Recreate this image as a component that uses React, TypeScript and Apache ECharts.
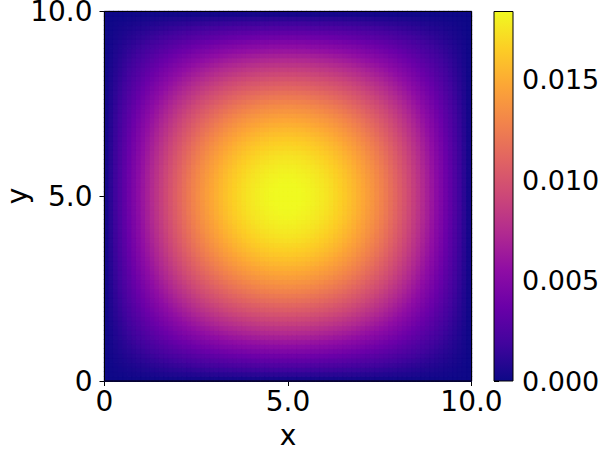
import React, { useEffect, useRef } from "react";
import * as echarts from "echarts";

// Field value read along the centre line y = 5 (80 cell centres, x = 0.0625 ... 9.9375)
const xProfile = [
  0.00036, 0.00109, 0.00181, 0.00253, 0.00325, 0.00396, 0.00467, 0.00537, 0.00606, 0.00674,
  0.00741, 0.00807, 0.00872, 0.00935, 0.00997, 0.01058, 0.01117, 0.01174, 0.01229, 0.01282,
  0.01334, 0.01383, 0.0143, 0.01475, 0.01518, 0.01558, 0.01596, 0.01632, 0.01665, 0.01695,
  0.01723, 0.01748, 0.0177, 0.0179, 0.01807, 0.01821, 0.01833, 0.01841, 0.01847, 0.0185,
  0.0185, 0.01847, 0.01841, 0.01833, 0.01821, 0.01807, 0.0179, 0.0177, 0.01748, 0.01723,
  0.01695, 0.01665, 0.01632, 0.01596, 0.01558, 0.01518, 0.01475, 0.0143, 0.01383, 0.01334,
  0.01282, 0.01229, 0.01174, 0.01117, 0.01058, 0.00997, 0.00935, 0.00872, 0.00807, 0.00741,
  0.00674, 0.00606, 0.00537, 0.00467, 0.00396, 0.00325, 0.00253, 0.00181, 0.00109, 0.00036,
];
// Field value read along the centre line x = 5 (same shape as along y = 5)
const yProfile = [
  0.00036, 0.00109, 0.00181, 0.00253, 0.00325, 0.00396, 0.00467, 0.00537, 0.00606, 0.00674,
  0.00741, 0.00807, 0.00872, 0.00935, 0.00997, 0.01058, 0.01117, 0.01174, 0.01229, 0.01282,
  0.01334, 0.01383, 0.0143, 0.01475, 0.01518, 0.01558, 0.01596, 0.01632, 0.01665, 0.01695,
  0.01723, 0.01748, 0.0177, 0.0179, 0.01807, 0.01821, 0.01833, 0.01841, 0.01847, 0.0185,
  0.0185, 0.01847, 0.01841, 0.01833, 0.01821, 0.01807, 0.0179, 0.0177, 0.01748, 0.01723,
  0.01695, 0.01665, 0.01632, 0.01596, 0.01558, 0.01518, 0.01475, 0.0143, 0.01383, 0.01334,
  0.01282, 0.01229, 0.01174, 0.01117, 0.01058, 0.00997, 0.00935, 0.00872, 0.00807, 0.00741,
  0.00674, 0.00606, 0.00537, 0.00467, 0.00396, 0.00325, 0.00253, 0.00181, 0.00109, 0.00036,
];
const PEAK = 0.0185; // value at the centre (5, 5)

const axisTicks = [0, 5, 10];
const axisTickLabels = ["0", "5.0", "10.0"];
const colorbarMax = 0.0184;
const colorbarTicks = [0, 0.005, 0.01, 0.015];
const colorbarTickLabels = ["0.000", "0.005", "0.010", "0.015"];
const xName = "x";
const yName = "y";

const plasma = [
  "#0d0887", "#41049d", "#6a00a8", "#8f0da4", "#b12a90", "#cc4778",
  "#e16462", "#f2844b", "#fca636", "#fcce25", "#f0f921",
];

const FONT = "DejaVu Sans";
const PLOT = { left: 104.5, top: 11.5, width: 367, height: 369.5 };
const CBAR = { left: 494, top: 11.5, width: 19, height: 369.5 };

export default function App() {
  const ref = useRef<HTMLDivElement>(null);
  useEffect(() => {
    if (!ref.current) return;
    const chart = echarts.init(ref.current, undefined, { renderer: "svg" });

    const xCats = xProfile.map((_, i) => String(i));
    const yCats = yProfile.map((_, j) => String(j));
    const data: any[] = [];
    for (let i = 0; i < xProfile.length; i++) {
      for (let j = 0; j < yProfile.length; j++) {
        const v = (xProfile[i] * yProfile[j]) / PEAK;
        const t = Math.max(0, Math.min(1, v / colorbarMax));
        const c = echarts.color.lerp(t, plasma);
        data.push({
          value: [i, j, v],
          itemStyle: { color: c, borderColor: c, borderWidth: 0.8 },
        });
      }
    }

    const tickFmt = (v: number) => {
      const k = axisTicks.indexOf(v);
      return k >= 0 ? axisTickLabels[k] : "";
    };
    const cbFmt = (v: number) => {
      let best = 0;
      for (let k = 0; k < colorbarTicks.length; k++) {
        if (Math.abs(colorbarTicks[k] - v) < Math.abs(colorbarTicks[best] - v)) best = k;
      }
      return colorbarTickLabels[best];
    };

    const labelStyle = { color: "#000", fontSize: 28, fontFamily: FONT };

    chart.setOption({
      animation: false,
      backgroundColor: "#fff",
      textStyle: { fontFamily: FONT },
      grid: [
        { ...PLOT, containLabel: false, outerBoundsMode: "none" },
        { ...CBAR, containLabel: false, outerBoundsMode: "none" },
      ],
      xAxis: [
        { type: "category", gridIndex: 0, data: xCats, show: false, position: "top" },
        {
          type: "value",
          gridIndex: 0,
          position: "bottom",
          min: 0,
          max: 10,
          interval: 5,
          axisLine: { show: true, lineStyle: { color: "#000", width: 1 } },
          axisTick: { show: true, inside: false, length: 5, lineStyle: { color: "#000", width: 1 } },
          axisLabel: { ...labelStyle, margin: 6, formatter: tickFmt, showMinLabel: true, showMaxLabel: true },
          splitLine: { show: false },
          name: xName,
          nameLocation: "middle",
          nameGap: 40,
          nameTextStyle: labelStyle,
        },
        { type: "value", gridIndex: 1, show: false, min: 0, max: 1 },
      ],
      yAxis: [
        { type: "category", gridIndex: 0, data: yCats, show: false, position: "right" },
        {
          type: "value",
          gridIndex: 0,
          position: "left",
          min: 0,
          max: 10,
          interval: 5,
          axisLine: { show: true, lineStyle: { color: "#000", width: 1 } },
          axisTick: { show: true, inside: false, length: 5, lineStyle: { color: "#000", width: 1 } },
          axisLabel: { ...labelStyle, margin: 12, formatter: tickFmt, showMinLabel: true, showMaxLabel: true },
          splitLine: { show: false },
        },
        {
          type: "value",
          gridIndex: 1,
          position: "right",
          min: 0,
          max: colorbarMax,
          axisLine: { show: false },
          axisTick: {
            show: true,
            inside: false,
            length: 5,
            customValues: colorbarTicks,
            lineStyle: { color: "#000", width: 1 },
          },
          axisLabel: { ...labelStyle, fontSize: 27, margin: 9, customValues: colorbarTicks, formatter: cbFmt },
          splitLine: { show: false },
        },
      ],
      visualMap: {
        show: false,
        type: "continuous",
        seriesIndex: 0,
        dimension: 2,
        min: 0,
        max: colorbarMax,
        inRange: { color: plasma },
      },
      series: [
        {
          type: "heatmap",
          xAxisIndex: 0,
          yAxisIndex: 0,
          data,
          progressive: 0,
          emphasis: { disabled: true },
        },
      ],
      graphic: [
        {
          type: "rect",
          z: 100,
          shape: { x: PLOT.left, y: PLOT.top, width: PLOT.width, height: PLOT.height },
          style: { fill: "none", stroke: "#000", lineWidth: 1 },
          silent: true,
        },
        {
          type: "rect",
          z: 50,
          shape: { x: CBAR.left, y: CBAR.top, width: CBAR.width, height: CBAR.height },
          style: {
            fill: {
              type: "linear",
              x: 0,
              y: 1,
              x2: 0,
              y2: 0,
              colorStops: plasma.map((c, k) => ({ offset: k / (plasma.length - 1), color: c })),
            },
            stroke: "#000",
            lineWidth: 1,
          },
          silent: true,
        },
        {
          type: "text",
          z: 100,
          x: 17,
          y: 196,
          rotation: Math.PI / 2,
          style: {
            text: yName,
            fontSize: 28,
            fontFamily: FONT,
            fill: "#000",
            align: "center",
            verticalAlign: "middle",
          },
          silent: true,
        },
      ],
    });
    return () => chart.dispose();
  }, []);
  return (
    <div
      ref={ref}
      style={{ position: "fixed", left: 0, top: 0, width: 600, height: 450, background: "#fff" }}
    />
  );
}
